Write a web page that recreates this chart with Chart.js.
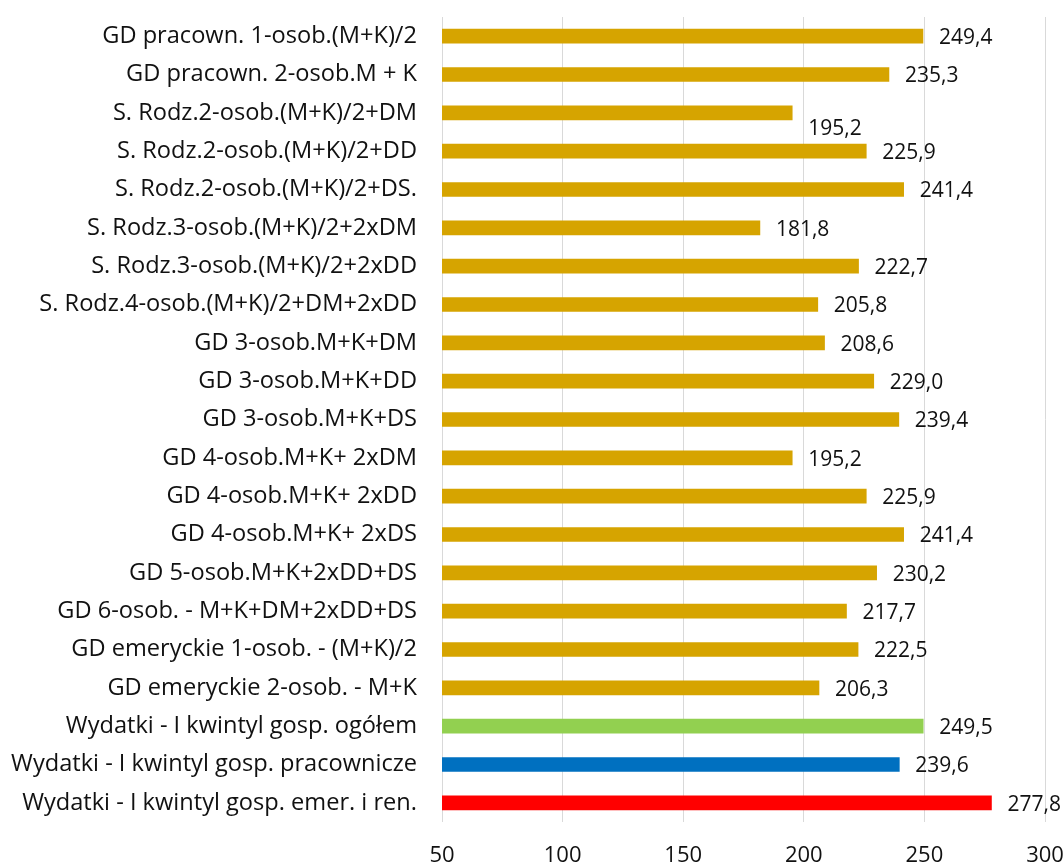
<!DOCTYPE html>
<html>
<head>
<meta charset="utf-8">
<script src="https://cdn.jsdelivr.net/npm/chart.js@4"></script>
<style>
html,body{margin:0;padding:0;background:#fff;}
#wrap{width:1064px;height:864px;}
</style>
</head>
<body>
<div id="wrap"><canvas id="c" width="1064" height="864"></canvas></div>
<script>
const categories = [
  "GD pracown. 1-osob.(M+K)/2",
  "GD pracown. 2-osob.M + K",
  "S. Rodz.2-osob.(M+K)/2+DM",
  "S. Rodz.2-osob.(M+K)/2+DD",
  "S. Rodz.2-osob.(M+K)/2+DS.",
  "S. Rodz.3-osob.(M+K)/2+2xDM",
  "S. Rodz.3-osob.(M+K)/2+2xDD",
  "S. Rodz.4-osob.(M+K)/2+DM+2xDD",
  "GD 3-osob.M+K+DM",
  "GD 3-osob.M+K+DD",
  "GD 3-osob.M+K+DS",
  "GD 4-osob.M+K+ 2xDM",
  "GD 4-osob.M+K+ 2xDD",
  "GD 4-osob.M+K+ 2xDS",
  "GD 5-osob.M+K+2xDD+DS",
  "GD 6-osob. - M+K+DM+2xDD+DS",
  "GD emeryckie 1-osob. - (M+K)/2",
  "GD emeryckie 2-osob. - M+K",
  "Wydatki - I kwintyl gosp. ogółem",
  "Wydatki - I kwintyl gosp. pracownicze",
  "Wydatki - I kwintyl gosp. emer. i ren."
];
const values = [249.4,235.3,195.2,225.9,241.4,181.8,222.7,205.8,208.6,229.0,239.4,195.2,225.9,241.4,230.2,217.7,222.5,206.3,249.5,239.6,277.8];
const barColors = [
  "#D6A400","#D6A400","#D6A400","#D6A400","#D6A400","#D6A400","#D6A400","#D6A400","#D6A400",
  "#D6A400","#D6A400","#D6A400","#D6A400","#D6A400","#D6A400","#D6A400","#D6A400","#D6A400",
  "#92D050","#0070C0","#FF0000"
];
const xTicks = [50,100,150,200,250,300];

const FONT = "'Open Sans', sans-serif";
const FS_CAT = 23.6;
const FS_VAL = 21;
const FS_TICK = 22;

const valueLabels = {
  id: 'valueLabels',
  afterDatasetsDraw(chart, args, opts) {
    const ctx = chart.ctx;
    const meta = chart.getDatasetMeta(0);
    ctx.save();
    ctx.font = FS_VAL + "px " + FONT;
    ctx.fillStyle = "#111";
    ctx.textAlign = "left";
    ctx.textBaseline = "middle";
    meta.data.forEach((bar, i) => {
      const dy = (opts.yShift && opts.yShift[i]) || 0;
      const txt = values[i].toFixed(1).replace('.', ',');
      ctx.fillText(txt, bar.x + 16, bar.y + 2 + dy);
    });
    ctx.restore();
  }
};

new Chart(document.getElementById('c'), {
  type: 'bar',
  data: {
    labels: categories,
    datasets: [{
      data: values,
      backgroundColor: barColors,
      borderWidth: 0,
      barThickness: 14
    }]
  },
  options: {
    indexAxis: 'y',
    responsive: false,
    animation: false,
    devicePixelRatio: 1,
    layout: { padding: { top: 17, right: 19, left: 0, bottom: 0 } },
    plugins: {
      legend: { display: false },
      tooltip: { enabled: false },
      valueLabels: { yShift: { 2: 14 } }
    },
    scales: {
      x: {
        min: 50, max: 300,
        afterBuildTicks: (s) => { s.ticks = xTicks.map(v => ({ value: v })); },
        grid: { color: "#d9d9d9", lineWidth: 1, drawTicks: false },
        border: { display: false },
        ticks: { color: "#111", font: { family: FONT, size: FS_TICK }, padding: 21, maxRotation: 0 },
        afterFit: (s) => { s.height = 42; s.paddingLeft = 0; s.paddingRight = 0; }
      },
      y: {
        grid: { display: false, drawTicks: false },
        border: { display: false },
        ticks: { color: "#111", font: { family: FONT, size: FS_CAT }, padding: 25, autoSkip: false },
        afterFit: (s) => { s.width = 442; s.paddingTop = 0; s.paddingBottom = 0; }
      }
    }
  },
  plugins: [valueLabels]
});
</script>
</body>
</html>
